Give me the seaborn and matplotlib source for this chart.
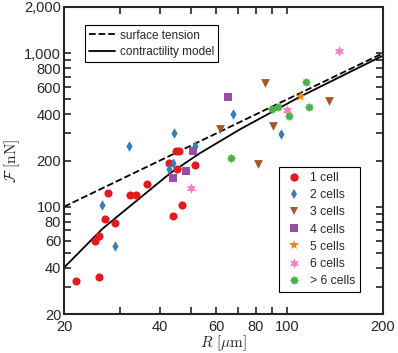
import numpy as np
import pandas as pd
import seaborn as sns
import matplotlib
matplotlib.use("Agg")
import matplotlib.pyplot as plt
from matplotlib.ticker import FixedLocator, FixedFormatter, NullFormatter
from matplotlib.lines import Line2D
from matplotlib.path import Path

# %%
# data (R in um, F in nN)
r_1cell = [21.8, 25.8, 25.0, 25.7, 26.9, 28.8, 27.4, 32.3, 33.6, 36.3, 43.9, 47.0, 45.1, 42.8, 44.9, 45.9, 51.5]
f_1cell = [32.7, 34.8, 59.8, 64.4, 83.5, 78.3, 122, 120, 120, 141, 87.4, 102, 175, 192, 229, 232, 187]
r_2cells = [32.0, 44.2, 51.5, 43.9, 42.7, 26.3, 29.0, 67.9, 96.1]
f_2cells = [249, 300, 249, 194, 177, 102, 55.5, 400, 296]
r_3cells = [85.3, 61.7, 90.4, 81.4, 135]
f_3cells = [642, 321, 337, 190, 491]
r_4cells = [50.7, 48.4, 43.9, 65.5]
f_4cells = [231, 172, 154, 516]
r_5cells = [110]
f_5cells = [530]
r_6cells = [146, 99.8, 50.1]
f_6cells = [1030, 425, 132]
r_more = [115, 89.7, 93.4, 101.5, 117, 67.0]
f_more = [652, 433, 446, 390, 448, 209]

groups = ["1 cell", "2 cells", "3 cells", "4 cells", "5 cells", "6 cells", "> 6 cells"]
group_r = [r_1cell, r_2cells, r_3cells, r_4cells, r_5cells, r_6cells, r_more]
group_f = [f_1cell, f_2cells, f_3cells, f_4cells, f_5cells, f_6cells, f_more]

# model curves
r_surface = [20, 200]
f_surface = [100, 1000]
r_contract = [20, 26.3, 28.5, 43.0, 53.3, 71.2, 110, 200]
f_contract = [40.1, 71.3, 81.9, 165, 223, 319, 521, 965]

# %%
colors = ["#e41a1c", "#377eb8", "#a65628", "#984ea3", "#ff7f00", "#f781bf", "#4daf4a"]
blob = Path.unit_regular_star(8, 0.72)  # rounded 8-point shape for > 6 cells
markers = ["o", "d", "v", "s", "*", (6, 1, 0), blob]
sizes = [34, 28, 40, 30, 60, 60, 42]
leg_ms = [6, 5.5, 6, 5.5, 7.5, 7.5, 6.5]

sns.set_style("ticks")
plt.rcParams["font.family"] = ["Liberation Sans", "DejaVu Sans"]
plt.rcParams["mathtext.fontset"] = "cm"

fig = plt.figure(figsize=(3.98, 3.53), dpi=100)
ax = fig.add_axes([64 / 398, 1 - 314 / 353, 319 / 398, 307 / 353])

rows = []
for g, rr, ff in zip(groups, group_r, group_f):
    for a, b in zip(rr, ff):
        rows.append((g, a, b))
df = pd.DataFrame(rows, columns=["group", "R", "F"])

for g, c, m, s in zip(groups, colors, markers, sizes):
    sub = df[df["group"] == g]
    sns.scatterplot(x=sub["R"], y=sub["F"], color=c, marker=m, s=s, linewidth=0, ax=ax, zorder=3)

ax.plot(r_surface, f_surface, "k--", lw=1.3, zorder=2)
ax.plot(r_contract, f_contract, "k-", lw=1.3, zorder=2)

ax.set_xscale("log")
ax.set_yscale("log")
ax.set_xlim(20, 200)
ax.set_ylim(20, 2000)

xmaj = [20, 40, 60, 80, 100, 200]
xmin = [30, 50, 70, 90]
ymaj = [20, 40, 60, 80, 100, 200, 400, 600, 800, 1000, 2000]
ymin = [30, 50, 70, 90, 300, 500, 700, 900]
ax.xaxis.set_major_locator(FixedLocator(xmaj))
ax.xaxis.set_major_formatter(FixedFormatter([f"{v:,}" for v in xmaj]))
ax.xaxis.set_minor_locator(FixedLocator(xmin))
ax.xaxis.set_minor_formatter(NullFormatter())
ax.yaxis.set_major_locator(FixedLocator(ymaj))
ax.yaxis.set_major_formatter(FixedFormatter([f"{v:,}" for v in ymaj]))
ax.yaxis.set_minor_locator(FixedLocator(ymin))
ax.yaxis.set_minor_formatter(NullFormatter())

ax.tick_params(which="both", direction="in", top=True, right=True, length=5, width=1.2, labelsize=10.5)
ax.tick_params(axis="x", pad=4)
ax.tick_params(axis="y", pad=2)
for sp in ax.spines.values():
    sp.set_linewidth(1.5)
    sp.set_visible(True)

ax.set_xlabel(r"$R\ [\mu\mathrm{m}]$", fontsize=11, labelpad=0)
ax.set_ylabel(r"$\mathcal{F}\ [\mathrm{nN}]$", fontsize=11, labelpad=2)

# legends
line_handles = [Line2D([], [], color="k", ls="--", lw=1.3), Line2D([], [], color="k", ls="-", lw=1.3)]
leg1 = ax.legend(line_handles, ["surface tension", "contractility model"], loc="upper left",
                 bbox_to_anchor=(0.065, 0.94), fontsize=8.5, frameon=True, fancybox=False,
                 edgecolor="k", framealpha=1, handlelength=2.2, handletextpad=0.4,
                 labelspacing=0.35, borderpad=0.35, borderaxespad=0)
leg1.get_frame().set_linewidth(0.8)
ax.add_artist(leg1)

pt_handles = [Line2D([], [], ls="", marker=m, color=c, markersize=ms, markeredgewidth=0)
              for c, m, ms in zip(colors, markers, leg_ms)]
leg2 = ax.legend(pt_handles, groups, loc="lower right", bbox_to_anchor=(0.928, 0.072),
                 fontsize=8.8, frameon=True, fancybox=False, edgecolor="k", framealpha=1,
                 handlelength=1.6, handletextpad=0.5, labelspacing=0.42, borderpad=0.4,
                 borderaxespad=0)
leg2.get_frame().set_linewidth(0.8)

fig.savefig("out.png", dpi=100)
